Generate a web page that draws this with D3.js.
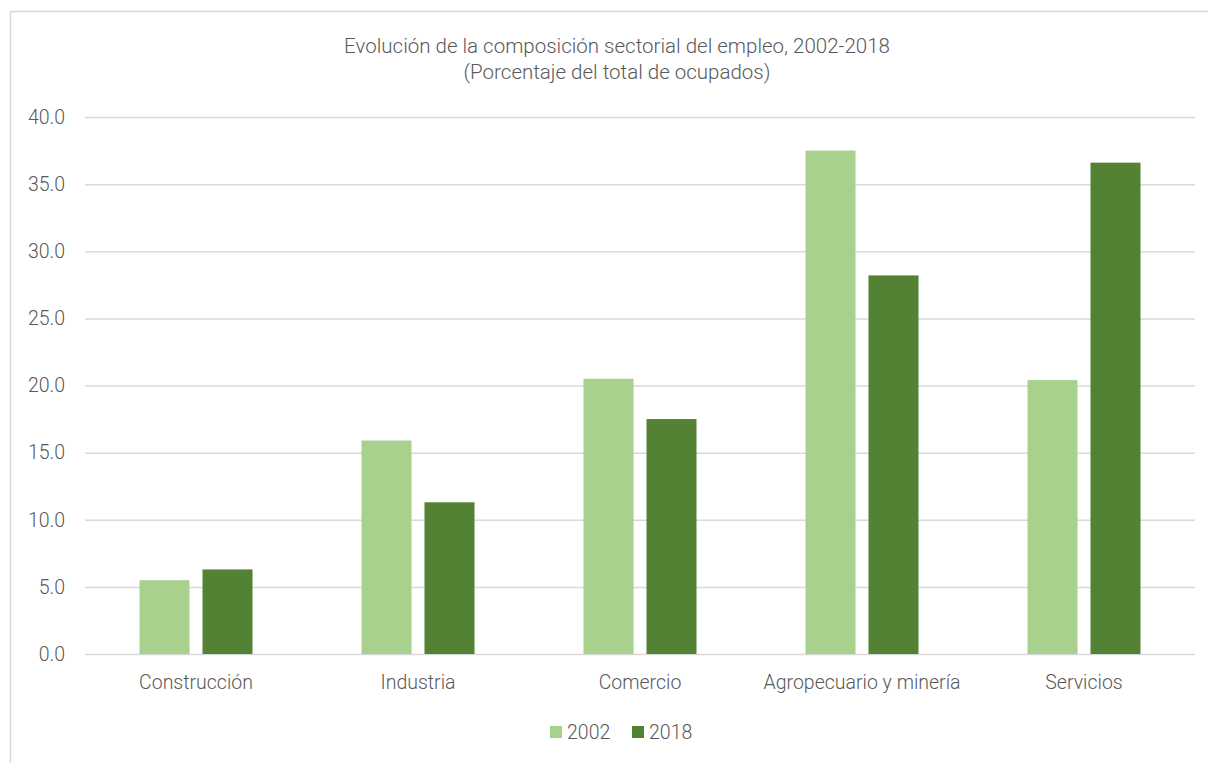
<!DOCTYPE html>
<html>
<head>
<meta charset="utf-8">
<script src="https://cdn.jsdelivr.net/npm/d3@7"></script>
<style>
  html, body { margin: 0; padding: 0; background: #fff; }
  svg text { font-family: Roboto, "Noto Sans", sans-serif; font-weight: 300; fill: #595959; }
</style>
</head>
<body>
<svg id="chart" width="1208" height="763"></svg>
<script>
const categories = ["Construcción", "Industria", "Comercio", "Agropecuario y minería", "Servicios"];
const seriesNames = ["2002", "2018"];
const values2002 = [5.5, 15.9, 20.5, 37.5, 20.4];
const values2018 = [6.3, 11.3, 17.5, 28.2, 36.6];
const yTicks = [0, 5, 10, 15, 20, 25, 30, 35, 40];
const colors = ["#A9D18E", "#548235"];

const svg = d3.select("#chart");
const W = 1208, H = 763;
const plot = { left: 85, right: 1195, top: 117, bottom: 654 };

// chart frame
svg.append("path")
  .attr("d", `M10.5,${H} V11.5 H${W}`)
  .attr("fill", "none").attr("stroke", "#d9d9d9").attr("stroke-width", 1.5);

// title
const title = svg.append("text").attr("x", 617).attr("text-anchor", "middle").style("font-size", "20.5px");
title.append("tspan").attr("x", 617).attr("y", 53).text("Evolución de la composición sectorial del empleo, 2002-2018");
title.append("tspan").attr("x", 617).attr("y", 79).text("(Porcentaje del total de ocupados)");

const y = d3.scaleLinear().domain([0, 40]).range([plot.bottom, plot.top]);
const x0 = d3.scaleBand().domain(categories).range([plot.left, plot.right]).padding(0);
const x1 = d3.scaleBand().domain(seriesNames).range([0, x0.bandwidth()])
  .paddingInner(0.206).paddingOuter(0.865);

// gridlines and y labels
const yAxis = d3.axisLeft(y).tickValues(yTicks).tickFormat(d3.format(".1f"))
  .tickSize(-(plot.right - plot.left)).tickPadding(20);
const gy = svg.append("g").attr("transform", `translate(${plot.left},0)`).call(yAxis);
gy.select(".domain").remove();
gy.selectAll(".tick line").attr("stroke", "#d9d9d9").attr("stroke-width", 1.5);
gy.selectAll(".tick text").style("font-size", "19.5px").attr("fill", "#595959");

// bars
const rows = categories.map((c, i) => ({ cat: c, vals: [values2002[i], values2018[i]] }));
const groups = svg.append("g").selectAll("g").data(rows).join("g")
  .attr("transform", d => `translate(${x0(d.cat)},0)`);
groups.selectAll("rect").data(d => d.vals.map((v, k) => ({ s: seriesNames[k], v, k })))
  .join("rect")
  .attr("x", d => x1(d.s))
  .attr("width", x1.bandwidth())
  .attr("y", d => y(d.v))
  .attr("height", d => y(0) - y(d.v))
  .attr("fill", d => colors[d.k]);

// category labels
const xAxis = d3.axisBottom(x0).tickSize(0).tickPadding(21);
const gx = svg.append("g").attr("transform", `translate(0,${plot.bottom})`).call(xAxis);
gx.select(".domain").remove();
gx.selectAll(".tick text").style("font-size", "19.5px").attr("fill", "#595959");

// legend
const legend = svg.append("g");
const legendX = [550, 632];
seriesNames.forEach((s, k) => {
  legend.append("rect").attr("x", legendX[k]).attr("y", 726).attr("width", 12).attr("height", 12).attr("fill", colors[k]);
  legend.append("text").attr("x", legendX[k] + 17).attr("y", 739).style("font-size", "19.5px").text(s);
});
</script>
</body>
</html>
